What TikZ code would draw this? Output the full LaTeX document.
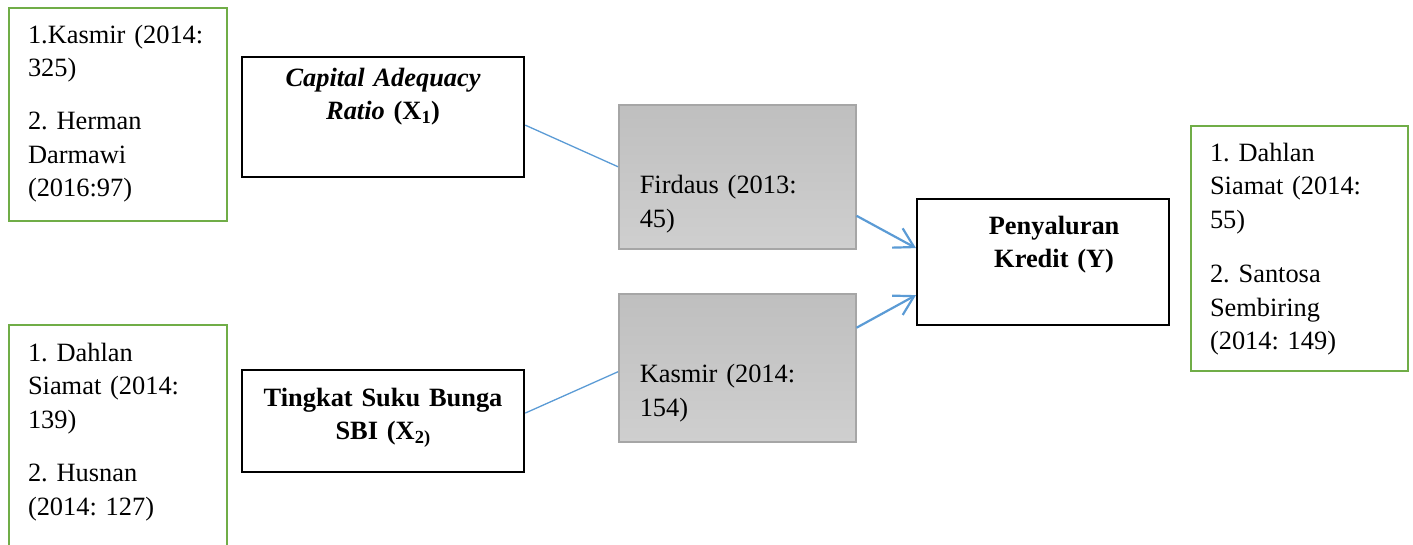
\documentclass[tikz,border=0pt]{standalone}
\usepackage{fontspec}
\setmainfont{Liberation Serif}
\usepackage{tikz}
\usepackage{xcolor}
\usetikzlibrary{arrows.meta}
\definecolor{hijau}{HTML}{70AD47}
\definecolor{biru}{HTML}{5B9BD5}
\definecolor{abugaris}{HTML}{A6A6A6}
\definecolor{abuatas}{HTML}{BFBFBF}
\definecolor{abubawah}{HTML}{CFCFCF}

\begin{document}
\begin{tikzpicture}[x=1pt, y=-1pt,
    teks/.style={font=\fontsize{26.4}{33.5}\selectfont\frenchspacing},
    refbox/.style={teks, draw=hijau, line width=2pt, anchor=north west, align=left,
      inner xsep=19pt, inner ysep=0pt},
    varbox/.style={draw=black, line width=2.2pt, anchor=north west, align=center,
      inner xsep=0pt, inner ysep=0pt, font=\fontsize{26.4}{33.5}\selectfont\bfseries\frenchspacing},
    citebox/.style={teks, draw=abugaris, line width=1.5pt, top color=abuatas, bottom color=abubawah,
      anchor=north west, align=left, inner xsep=21pt, inner ysep=0pt, text width=195pt},
    link/.style={draw=biru, line width=1.3pt},
    pointer/.style={draw=biru, line width=2.2pt, -{Straight Barb[length=19pt, width=22pt]}}]
  % 1 pt = 1 px of the target, y grows downwards
  \useasboundingbox (0,0) rectangle (1413,544);
  % references (green)
  \node[refbox, text width=180pt, text height=35pt, text depth=178pt] (refkiri) at (8,7)
    {1.Kasmir (2014:\\325)\\[19.5pt]2. Herman\\Darmawi\\(2016:97)};
  \node[refbox, text width=180pt, text height=36pt, text depth=188pt] (refbawah) at (8,324)
    {1. Dahlan\\Siamat (2014:\\139)\\[20pt]2. Husnan\\(2014: 127)};
  \node[refbox, text width=179pt, text height=35pt, text depth=210pt] (refkanan) at (1190,125)
    {1. Dahlan\\Siamat (2014:\\55)\\[21pt]2. Santosa\\Sembiring\\(2014: 149)};
  % variables
  \node[varbox, text width=282pt, text height=29pt, text depth=91pt] (car) at (241,56)
    {\textit{Capital Adequacy}\\\textit{Ratio} (X\textsubscript{1})};
  \node[varbox, text width=282pt, text height=36pt, text depth=66pt] (sbi) at (241,369)
    {Tingkat Suku Bunga\\SBI (X\textsubscript{2)}};
  \node[varbox, text width=252pt, text height=35pt, text depth=91pt] (kredit) at (916,198)
    {\hspace*{22pt}Penyaluran\\\hspace*{22pt}Kredit (Y)};
  % theory sources (grey)
  \node[citebox, text height=89pt, text depth=55pt] (firdaus) at (618,104)
    {Firdaus (2013:\\45)};
  \node[citebox, text height=89pt, text depth=59pt] (kasmir) at (618,293)
    {Kasmir (2014:\\154)};
  % connectors
  \draw[link] ([yshift=-8pt]car.east) -- ([yshift=10pt]firdaus.west);
  \draw[link] ([yshift=8pt]sbi.east) -- ([yshift=-4pt]kasmir.west);
  \draw[pointer] ([yshift=-39pt]firdaus.east) -- ([yshift=14pt]kredit.west);
  \draw[pointer] ([yshift=40pt]kasmir.east) -- ([yshift=-33pt]kredit.west);
\end{tikzpicture}
\end{document}
